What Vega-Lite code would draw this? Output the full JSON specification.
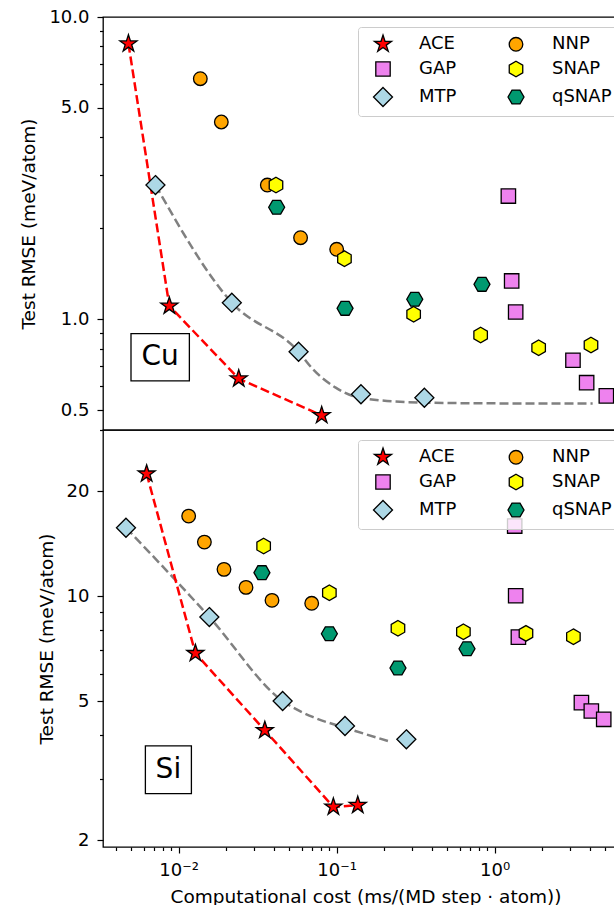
{
  "$schema": "https://vega.github.io/schema/vega-lite/v6.json",
  "padding": {"left": 19, "top": 7, "right": -12, "bottom": -1},
  "background": "white",
  "config": {
    "view": {"stroke": "black", "strokeWidth": 1.3},
    "axis": {
      "labelFont": "DejaVu Sans", "titleFont": "DejaVu Sans",
      "labelFontSize": 18, "titleFontSize": 18.5, "titleFontWeight": "normal",
      "labelColor": "black", "titleColor": "black", "tickColor": "black", "tickWidth": 1.2,
      "domain": false, "grid": false, "labelFlush": false, "labelOverlap": false
    },
    "legend": {
      "orient": "top-right", "offset": 10, "columns": 2,
      "labelFont": "DejaVu Sans", "labelFontSize": 18, "labelColor": "black",
      "symbolSize": 400, "symbolStrokeWidth": 1.3,
      "labelOffset": 25, "columnPadding": 40, "rowPadding": 4, "padding": 6, "symbolOffset": 8,
      "strokeColor": "#cccccc", "fillColor": "rgba(255,255,255,0.8)", "cornerRadius": 3
    }
  },
  "datasets": {
    "pts": [
      {"panel": "Cu", "method": "MTP", "x": 0.00713, "y": 2.78},
      {"panel": "Cu", "method": "MTP", "x": 0.0217, "y": 1.135},
      {"panel": "Cu", "method": "MTP", "x": 0.0574, "y": 0.781},
      {"panel": "Cu", "method": "MTP", "x": 0.1425, "y": 0.565},
      {"panel": "Cu", "method": "MTP", "x": 0.359, "y": 0.55},
      {"panel": "Cu", "method": "GAP", "x": 1.221, "y": 2.557},
      {"panel": "Cu", "method": "GAP", "x": 1.281, "y": 1.339},
      {"panel": "Cu", "method": "GAP", "x": 1.358, "y": 1.057},
      {"panel": "Cu", "method": "GAP", "x": 3.13, "y": 0.732},
      {"panel": "Cu", "method": "GAP", "x": 3.82, "y": 0.617},
      {"panel": "Cu", "method": "GAP", "x": 5.09, "y": 0.558},
      {"panel": "Cu", "method": "NNP", "x": 0.01371, "y": 6.25},
      {"panel": "Cu", "method": "NNP", "x": 0.01862, "y": 4.495},
      {"panel": "Cu", "method": "NNP", "x": 0.0364, "y": 2.78},
      {"panel": "Cu", "method": "NNP", "x": 0.0591, "y": 1.862},
      {"panel": "Cu", "method": "NNP", "x": 0.1, "y": 1.704},
      {"panel": "Cu", "method": "qSNAP", "x": 0.0417, "y": 2.348},
      {"panel": "Cu", "method": "qSNAP", "x": 0.113, "y": 1.087},
      {"panel": "Cu", "method": "qSNAP", "x": 0.312, "y": 1.165},
      {"panel": "Cu", "method": "qSNAP", "x": 0.831, "y": 1.305},
      {"panel": "Cu", "method": "SNAP", "x": 0.0413, "y": 2.78},
      {"panel": "Cu", "method": "SNAP", "x": 0.112, "y": 1.587},
      {"panel": "Cu", "method": "SNAP", "x": 0.307, "y": 1.039},
      {"panel": "Cu", "method": "SNAP", "x": 0.815, "y": 0.887},
      {"panel": "Cu", "method": "SNAP", "x": 1.898, "y": 0.805},
      {"panel": "Cu", "method": "SNAP", "x": 4.07, "y": 0.822},
      {"panel": "Cu", "method": "ACE", "x": 0.00481, "y": 8.16},
      {"panel": "Cu", "method": "ACE", "x": 0.00873, "y": 1.107},
      {"panel": "Cu", "method": "ACE", "x": 0.024, "y": 0.636},
      {"panel": "Cu", "method": "ACE", "x": 0.0804, "y": 0.481},
      {"panel": "Si", "method": "MTP", "x": 0.00464, "y": 15.73},
      {"panel": "Si", "method": "MTP", "x": 0.01564, "y": 8.72},
      {"panel": "Si", "method": "MTP", "x": 0.0455, "y": 5.01},
      {"panel": "Si", "method": "MTP", "x": 0.1129, "y": 4.246},
      {"panel": "Si", "method": "MTP", "x": 0.2761, "y": 3.89},
      {"panel": "Si", "method": "GAP", "x": 1.339, "y": 15.91},
      {"panel": "Si", "method": "GAP", "x": 1.358, "y": 10.04},
      {"panel": "Si", "method": "GAP", "x": 1.413, "y": 7.64},
      {"panel": "Si", "method": "GAP", "x": 3.54, "y": 4.955},
      {"panel": "Si", "method": "GAP", "x": 4.09, "y": 4.69},
      {"panel": "Si", "method": "GAP", "x": 4.9, "y": 4.44},
      {"panel": "Si", "method": "NNP", "x": 0.01157, "y": 16.99},
      {"panel": "Si", "method": "NNP", "x": 0.01455, "y": 14.31},
      {"panel": "Si", "method": "NNP", "x": 0.01936, "y": 11.95},
      {"panel": "Si", "method": "NNP", "x": 0.02668, "y": 10.61},
      {"panel": "Si", "method": "NNP", "x": 0.03897, "y": 9.74},
      {"panel": "Si", "method": "NNP", "x": 0.0695, "y": 9.55},
      {"panel": "Si", "method": "qSNAP", "x": 0.03366, "y": 11.69},
      {"panel": "Si", "method": "qSNAP", "x": 0.0899, "y": 7.81},
      {"panel": "Si", "method": "qSNAP", "x": 0.2443, "y": 6.23},
      {"panel": "Si", "method": "qSNAP", "x": 0.668, "y": 7.076},
      {"panel": "Si", "method": "SNAP", "x": 0.0345, "y": 13.94},
      {"panel": "Si", "method": "SNAP", "x": 0.0899, "y": 10.24},
      {"panel": "Si", "method": "SNAP", "x": 0.2443, "y": 8.096},
      {"panel": "Si", "method": "SNAP", "x": 0.634, "y": 7.915},
      {"panel": "Si", "method": "SNAP", "x": 1.578, "y": 7.83},
      {"panel": "Si", "method": "SNAP", "x": 3.15, "y": 7.66},
      {"panel": "Si", "method": "ACE", "x": 0.00627, "y": 22.47},
      {"panel": "Si", "method": "ACE", "x": 0.01276, "y": 6.865},
      {"panel": "Si", "method": "ACE", "x": 0.0351, "y": 4.128},
      {"panel": "Si", "method": "ACE", "x": 0.0953, "y": 2.489},
      {"panel": "Si", "method": "ACE", "x": 0.136, "y": 2.517}
    ],
    "fits": [
      {"panel": "Cu", "fit": "ACE", "x": 0.00481, "y": 8.16},
      {"panel": "Cu", "fit": "ACE", "x": 0.00873, "y": 1.107},
      {"panel": "Cu", "fit": "ACE", "x": 0.024, "y": 0.636},
      {"panel": "Cu", "fit": "ACE", "x": 0.0804, "y": 0.481},
      {"panel": "Cu", "fit": "MTP", "x": 0.00713, "y": 2.78},
      {"panel": "Cu", "fit": "MTP", "x": 0.0217, "y": 1.135},
      {"panel": "Cu", "fit": "MTP", "x": 0.0574, "y": 0.781},
      {"panel": "Cu", "fit": "MTP", "x": 0.0705, "y": 0.685},
      {"panel": "Cu", "fit": "MTP", "x": 0.0986, "y": 0.594},
      {"panel": "Cu", "fit": "MTP", "x": 0.1393, "y": 0.5504},
      {"panel": "Cu", "fit": "MTP", "x": 0.35, "y": 0.53},
      {"panel": "Cu", "fit": "MTP", "x": 1.24, "y": 0.527},
      {"panel": "Cu", "fit": "MTP", "x": 4.17, "y": 0.527},
      {"panel": "Si", "fit": "ACE", "x": 0.00627, "y": 22.47},
      {"panel": "Si", "fit": "ACE", "x": 0.01276, "y": 6.865},
      {"panel": "Si", "fit": "ACE", "x": 0.0351, "y": 4.128},
      {"panel": "Si", "fit": "ACE", "x": 0.0953, "y": 2.489},
      {"panel": "Si", "fit": "ACE", "x": 0.136, "y": 2.517},
      {"panel": "Si", "fit": "MTP", "x": 0.004639, "y": 15.73},
      {"panel": "Si", "fit": "MTP", "x": 0.01564, "y": 8.724},
      {"panel": "Si", "fit": "MTP", "x": 0.0455, "y": 5.01},
      {"panel": "Si", "fit": "MTP", "x": 0.0705, "y": 4.508},
      {"panel": "Si", "fit": "MTP", "x": 0.1129, "y": 4.2},
      {"panel": "Si", "fit": "MTP", "x": 0.2207, "y": 3.822}
    ],
    "labels": [
      {"panel": "Cu", "label": "Cu", "x": 0.00764, "y": 0.7486},
      {"panel": "Si", "label": "Si", "x": 0.00861, "y": 3.181}
    ]
  },
  "spacing": 0,
  "bounds": "flush",
  "resolve": {"scale": {"fill": "independent", "shape": "independent", "stroke": "independent"}},
  "vconcat": [
    {
      "width": 525,
      "height": 413,
      "encoding": {
        "x": {"field": "x", "type": "quantitative", "scale": {"type": "log", "domain": [0.00332, 6.98], "nice": false}, "axis": null},
        "y": {"field": "y", "type": "quantitative", "scale": {"type": "log", "domain": [0.4303, 10], "nice": false},
          "axis": {
            "title": "Test RMSE (meV/atom)",
            "values": [0.5, 0.6, 0.7, 0.8, 0.9, 1, 2, 3, 4, 5, 6, 7, 8, 9, 10],
            "labelExpr": "indexof([0.5, 1, 5, 10], datum.value) >= 0 ? format(datum.value, '.1f') : ''",
            "tickSize": {"condition": {"test": "indexof([0.5, 1, 5, 10], datum.value) >= 0", "value": 6}, "value": 3.5},
            "labelPadding": 8, "titlePadding": 10
          }
        }
      },
      "layer": [
        {
          "data": {"name": "fits"},
          "transform": [{"filter": "datum.panel == 'Cu' && datum.fit == 'MTP'"}],
          "mark": {"type": "line", "color": "#808080", "strokeWidth": 2.5, "strokeDash": [9, 4], "interpolate": "monotone"}
        },
        {
          "data": {"name": "fits"},
          "transform": [{"filter": "datum.panel == 'Cu' && datum.fit == 'ACE'"}],
          "mark": {"type": "line", "color": "#ff0000", "strokeWidth": 2.5, "strokeDash": [9, 4]}
        },
        {
          "data": {"name": "pts"},
          "transform": [{"filter": "datum.panel == 'Cu'"}],
          "mark": {"type": "point", "filled": true, "opacity": 1, "strokeWidth": 1.3, "size": 400},
          "encoding": {
            "fill": {"field": "method", "type": "nominal",
              "scale": {"domain": ["ACE", "GAP", "MTP", "NNP", "SNAP", "qSNAP"], "range": ["#ff0000", "#ee82ee", "#add8e6", "#ffa500", "#ffff00", "#009970"]},
              "legend": {"title": null}},
            "stroke": {"field": "method", "type": "nominal",
              "scale": {"domain": ["ACE", "GAP", "MTP", "NNP", "SNAP", "qSNAP"], "range": ["black", "black", "black", "black", "black", "black"]},
              "legend": {"title": null}},
            "shape": {"field": "method", "type": "nominal",
              "scale": {"domain": ["ACE", "GAP", "MTP", "NNP", "SNAP", "qSNAP"], "range": [
                "M0,-0.9L0.2021,-0.2781L0.856,-0.2781L0.327,0.1062L0.529,0.7281L0,0.3438L-0.529,0.7281L-0.327,0.1062L-0.856,-0.2781L-0.2021,-0.2781Z",
                "M-0.72,-0.72L0.72,-0.72L0.72,0.72L-0.72,0.72Z",
                "M0,-0.95L0.95,0L0,0.95L-0.95,0Z",
                "M0.68,0A0.68,0.68,0,1,1,-0.68,0A0.68,0.68,0,1,1,0.68,0Z",
                "M0,-0.78L0.675,-0.39L0.675,0.39L0,0.78L-0.675,0.39L-0.675,-0.39Z",
                "M-0.8,0L-0.4,-0.693L0.4,-0.693L0.8,0L0.4,0.693L-0.4,0.693Z"
              ]},
              "legend": {"title": null}}
          }
        },
        {
          "data": {"name": "labels"},
          "transform": [{"filter": "datum.panel == 'Cu'"}],
          "mark": {"type": "point", "filled": true, "fill": "white", "stroke": "black", "strokeWidth": 1.3, "opacity": 1, "size": 3600,
            "shape": "M-0.973,-0.788L0.973,-0.788L0.973,0.788L-0.973,0.788Z"}
        },
        {
          "data": {"name": "labels"},
          "transform": [{"filter": "datum.panel == 'Cu'"}],
          "mark": {"type": "text", "font": "DejaVu Sans", "fontSize": 28, "color": "black", "align": "center", "baseline": "middle"},
          "encoding": {"text": {"field": "label"}}
        }
      ]
    },
    {
      "width": 525,
      "height": 417,
      "encoding": {
        "x": {"field": "x", "type": "quantitative", "scale": {"type": "log", "domain": [0.00332, 6.98], "nice": false},
          "axis": {
            "title": "Computational cost (ms/(MD step · atom))",
            "values": [0.004, 0.005, 0.006, 0.007, 0.008, 0.009, 0.01, 0.02, 0.03, 0.04, 0.05, 0.06, 0.07, 0.08, 0.09, 0.1, 0.2, 0.3, 0.4, 0.5, 0.6, 0.7, 0.8, 0.9, 1, 2, 3, 4, 5, 6],
            "labelExpr": "datum.value == 0.01 ? '10⁻²' : datum.value == 0.1 ? '10⁻¹' : datum.value == 1 ? '10⁰' : ''",
            "tickSize": {"condition": {"test": "indexof([0.01, 0.1, 1], datum.value) >= 0", "value": 6}, "value": 3.5},
            "labelPadding": 8, "titlePadding": 8
          }
        },
        "y": {"field": "y", "type": "quantitative", "scale": {"type": "log", "domain": [1.91, 30], "nice": false},
          "axis": {
            "title": "Test RMSE (meV/atom)",
            "values": [2, 3, 4, 5, 6, 7, 8, 9, 10, 20, 30],
            "labelExpr": "indexof([2, 5, 10, 20], datum.value) >= 0 ? format(datum.value, 'd') : ''",
            "tickSize": {"condition": {"test": "indexof([2, 5, 10, 20], datum.value) >= 0", "value": 6}, "value": 3.5},
            "labelPadding": 8, "titlePadding": 10
          }
        }
      },
      "layer": [
        {
          "data": {"name": "fits"},
          "transform": [{"filter": "datum.panel == 'Si' && datum.fit == 'MTP'"}],
          "mark": {"type": "line", "color": "#808080", "strokeWidth": 2.5, "strokeDash": [9, 4], "interpolate": "monotone"}
        },
        {
          "data": {"name": "fits"},
          "transform": [{"filter": "datum.panel == 'Si' && datum.fit == 'ACE'"}],
          "mark": {"type": "line", "color": "#ff0000", "strokeWidth": 2.5, "strokeDash": [9, 4]}
        },
        {
          "data": {"name": "pts"},
          "transform": [{"filter": "datum.panel == 'Si'"}],
          "mark": {"type": "point", "filled": true, "opacity": 1, "strokeWidth": 1.3, "size": 400},
          "encoding": {
            "fill": {"field": "method", "type": "nominal",
              "scale": {"domain": ["ACE", "GAP", "MTP", "NNP", "SNAP", "qSNAP"], "range": ["#ff0000", "#ee82ee", "#add8e6", "#ffa500", "#ffff00", "#009970"]},
              "legend": {"title": null}},
            "stroke": {"field": "method", "type": "nominal",
              "scale": {"domain": ["ACE", "GAP", "MTP", "NNP", "SNAP", "qSNAP"], "range": ["black", "black", "black", "black", "black", "black"]},
              "legend": {"title": null}},
            "shape": {"field": "method", "type": "nominal",
              "scale": {"domain": ["ACE", "GAP", "MTP", "NNP", "SNAP", "qSNAP"], "range": [
                "M0,-0.9L0.2021,-0.2781L0.856,-0.2781L0.327,0.1062L0.529,0.7281L0,0.3438L-0.529,0.7281L-0.327,0.1062L-0.856,-0.2781L-0.2021,-0.2781Z",
                "M-0.72,-0.72L0.72,-0.72L0.72,0.72L-0.72,0.72Z",
                "M0,-0.95L0.95,0L0,0.95L-0.95,0Z",
                "M0.68,0A0.68,0.68,0,1,1,-0.68,0A0.68,0.68,0,1,1,0.68,0Z",
                "M0,-0.78L0.675,-0.39L0.675,0.39L0,0.78L-0.675,0.39L-0.675,-0.39Z",
                "M-0.8,0L-0.4,-0.693L0.4,-0.693L0.8,0L0.4,0.693L-0.4,0.693Z"
              ]},
              "legend": {"title": null}}
          }
        },
        {
          "data": {"name": "labels"},
          "transform": [{"filter": "datum.panel == 'Si'"}],
          "mark": {"type": "point", "filled": true, "fill": "white", "stroke": "black", "strokeWidth": 1.3, "opacity": 1, "size": 3600,
            "shape": "M-0.767,-0.795L0.767,-0.795L0.767,0.795L-0.767,0.795Z"}
        },
        {
          "data": {"name": "labels"},
          "transform": [{"filter": "datum.panel == 'Si'"}],
          "mark": {"type": "text", "font": "DejaVu Sans", "fontSize": 28, "color": "black", "align": "center", "baseline": "middle"},
          "encoding": {"text": {"field": "label"}}
        }
      ]
    }
  ]
}
